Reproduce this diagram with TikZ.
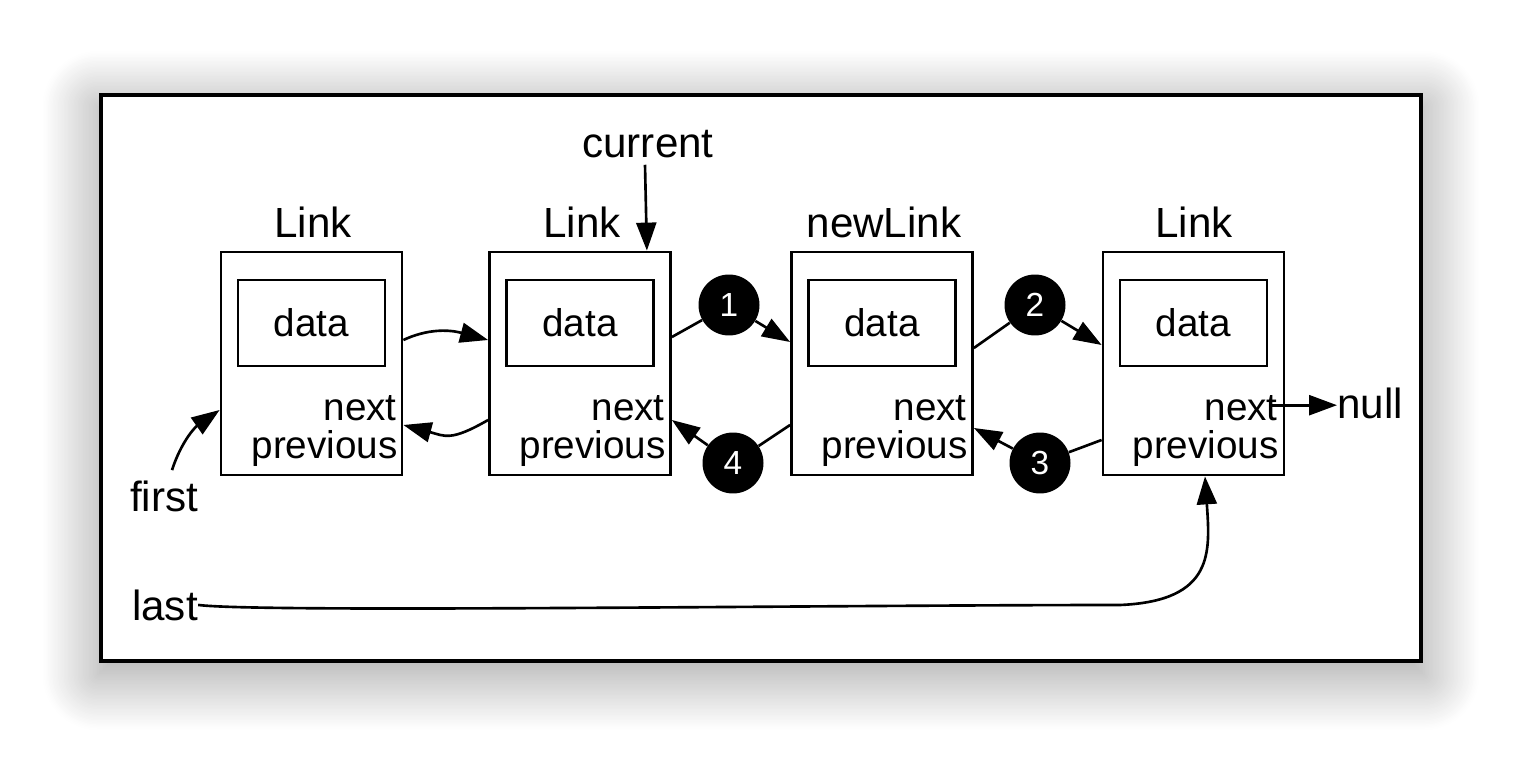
\documentclass[tikz,border=0pt]{standalone}
\usepackage{fontspec}
\setmainfont{Liberation Sans}
\usetikzlibrary{arrows.meta,positioning,shadows.blur}

\begin{document}
\begin{tikzpicture}[
  x=0.02cm, y=-0.02cm,
  font=\fontsize{22}{24}\selectfont,
  frame/.style={draw,line width=2.2pt,fill=white,minimum width=26.4cm,minimum height=11.32cm,inner sep=0pt,
    blur shadow={shadow xshift=0pt,shadow yshift=-0.25cm,shadow blur radius=1.1cm,shadow blur steps=40,shadow opacity=40,shadow scale=1.005}},
  linkbox/.style={draw,line width=1.6pt,minimum width=3.62cm,minimum height=4.46cm,inner sep=0pt},
  databox/.style={draw,line width=1.6pt,minimum width=2.94cm,minimum height=1.72cm,inner sep=0pt},
  txt/.style={anchor=base,inner sep=0pt,font=\fontsize{24}{26}\selectfont},
  field/.style={anchor=base east,inner sep=0pt},
  badge/.style={circle,fill=black,text=white,minimum size=1.22cm,inner sep=0pt,font=\fontsize{19}{20}\selectfont},
  ptr/.style={line width=1.5pt,-{Triangle[length=0.56cm,width=0.4cm]}},
  wire/.style={line width=1.5pt}
]
\useasboundingbox (0,0) rectangle (1521,770);
\node[frame] (frame) at (761,378) {};

% the four links
\node[linkbox] (l1) at (311.5,363.5) {};
\node[linkbox] (l2) at (580,363.5) {};
\node[linkbox] (nl) at (882,363.5) {};
\node[linkbox] (l4) at (1193.5,363.5) {};

\node[txt] (t1) at (313,237) {Link};
\node[txt] (t2) at (582,237) {Link};
\node[txt] (t3) at (884,237) {newLink};
\node[txt] (t4) at (1194,237) {Link};

\node[databox] (d1) at (311.5,323) {data};
\node[databox] (d2) at (580,323) {data};
\node[databox] (d3) at (882,323) {data};
\node[databox] (d4) at (1193.5,323) {data};

\node[field] (n1) at (397,420) {next};
\node[field] (p1) at (398,458) {previous};
\node[field] (n2) at (665,420) {next};
\node[field] (p2) at (666,458) {previous};
\node[field] (n3) at (967,420) {next};
\node[field] (p3) at (968,458) {previous};
\node[field] (n4) at (1278,420) {next};
\node[field] (p4) at (1279,458) {previous};

% numbered steps
\node[badge] (c1) at (729,305) {1};
\node[badge] (c2) at (1035,305) {2};
\node[badge] (c3) at (1040,463) {3};
\node[badge] (c4) at (733,463) {4};

\node[txt] (current) at (648,158) {current};
\node[txt] (first) at (164,511) {first};
\node[txt] (last) at (165,620) {last};
\node[txt,anchor=base west] (null) at (1337,418) {null};

\draw[ptr] ([yshift=0.47cm]l1.east) to[out=25,in=165] ([yshift=0.47cm]l2.west);
\draw[ptr] ([yshift=-1.13cm]l2.west) to[out=210,in=-15,looseness=1.3] ([yshift=-1.23cm]l1.east);
\draw[ptr] ([yshift=0.53cm]l2.east) -- (c1) -- ([yshift=0.43cm]nl.west);
\draw[ptr] ([yshift=-1.23cm]nl.west) -- (c4) -- ([yshift=-1.13cm]l2.east);
\draw[ptr] ([yshift=0.31cm]nl.east) -- (c2) -- ([yshift=0.37cm]l4.west);
\draw[ptr] ([yshift=-1.53cm]l4.west) -- (c3) -- ([yshift=-1.29cm]nl.east);
\draw[ptr] ([xshift=-0.12cm,yshift=0.05cm]n4.east) -- ([yshift=0.05cm]n4.east -| null.west);

\draw[ptr] ([xshift=-0.06cm,yshift=-0.12cm]current.south) -- ([xshift=-0.5cm]l2.north east);
\draw[ptr] ([xshift=0.16cm,yshift=0.2cm]first.north) to[out=72,in=215] ([yshift=-0.93cm]l1.west);
\draw[ptr] (last.east) .. controls +(60,8) and +(-300,0) .. (1120,605)
  .. controls +(95,-4) and +(5,75) .. ([xshift=0.23cm]l4.south);
\end{tikzpicture}
\end{document}
